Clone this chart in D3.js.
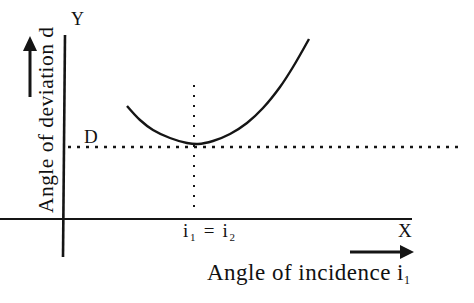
<!DOCTYPE html>
<html>
<head>
<meta charset="utf-8">
<script src="https://cdn.jsdelivr.net/npm/d3@7"></script>
<style>
  body { margin: 0; background: #fff; }
  text { font-family: "Liberation Serif", "Times New Roman", serif; fill: #111; }
</style>
</head>
<body>
<div id="chart"></div>
<script>
// curve of deviation vs incidence (arbitrary units)
let incidence = [15.75, 19, 22.25, 26.5, 30.75, 33.5, 37.25, 41.5, 45.75, 49.75, 54, 57.25, 61.25];
let deviation = [56.5, 49.5, 44.5, 40.5, 38, 37.5, 39, 42.5, 48, 55.5, 66, 76, 90];
let minDev = 36;       // D
let minInc = 32.5;     // i1 = i2

let width = 474, height = 303;

let svg = d3.select('#chart').append('svg')
    .attr('width', width)
    .attr('height', height);

let x = d3.scaleLinear().domain([0, 100]).range([64, 464]);
let y = d3.scaleLinear().domain([0, 100]).range([219, 19]);

let ink = '#151515';

// axes
svg.append('line')
    .attr('x1', x(-16)).attr('x2', 412)
    .attr('y1', y(0)).attr('y2', y(0))
    .attr('stroke', ink).attr('stroke-width', 2);

svg.append('line')
    .attr('x1', x(0) + 1).attr('x2', x(0) - 1)
    .attr('y1', 35).attr('y2', 257)
    .attr('stroke', ink).attr('stroke-width', 2.6);

// dotted guides
svg.append('line')
    .attr('x1', x(1)).attr('x2', x(100))
    .attr('y1', y(minDev)).attr('y2', y(minDev))
    .attr('stroke', ink).attr('stroke-width', 2.5)
    .attr('stroke-dasharray', '3,6');

svg.append('line')
    .attr('x1', x(minInc)).attr('x2', x(minInc))
    .attr('y1', y(67)).attr('y2', y(4))
    .attr('stroke', ink).attr('stroke-width', 2)
    .attr('stroke-dasharray', '2,8');

// the curve
let pts = incidence.map((d, i) => [d, deviation[i]]);
let line = d3.line()
    .x(d => x(d[0]))
    .y(d => y(d[1]))
    .curve(d3.curveCatmullRom);

svg.append('path')
    .datum(pts)
    .attr('d', line)
    .attr('fill', 'none')
    .attr('stroke', ink)
    .attr('stroke-width', 2.4);

// labels
svg.append('text').attr('x', 71).attr('y', 25).attr('font-size', 18).text('Y');
svg.append('text').attr('x', 84).attr('y', 143).attr('font-size', 19).text('D');
svg.append('text').attr('x', 398).attr('y', 237).attr('font-size', 19).text('X');

let eq = svg.append('text').attr('x', 183).attr('y', 237).attr('font-size', 19)
    .attr('textLength', 52);
eq.append('tspan').text('i');
eq.append('tspan').attr('font-size', 11).attr('dy', 4).text('1');
eq.append('tspan').attr('dy', -4).text(' = i');
eq.append('tspan').attr('font-size', 11).attr('dy', 4).text('2');

let xl = svg.append('text').attr('x', 207).attr('y', 280).attr('font-size', 23)
    .attr('textLength', 203);
xl.append('tspan').text('Angle of incidence i');
xl.append('tspan').attr('font-size', 12).attr('dy', 4).text('1');

svg.append('text')
    .attr('transform', 'translate(53,213) rotate(-90)')
    .attr('font-size', 21.5)
    .attr('textLength', 186)
    .text('Angle of deviation d');

// arrows
svg.append('line')
    .attr('x1', 350).attr('x2', 402).attr('y1', 252).attr('y2', 252)
    .attr('stroke', ink).attr('stroke-width', 3);
svg.append('path')
    .attr('d', 'M400,245 L414,252 L400,259 Z')
    .attr('fill', ink);

svg.append('line')
    .attr('x1', 30).attr('x2', 30).attr('y1', 97).attr('y2', 48)
    .attr('stroke', ink).attr('stroke-width', 3);
svg.append('path')
    .attr('d', 'M23,51 L30,36 L37,51 Z')
    .attr('fill', ink);
</script>
</body>
</html>
